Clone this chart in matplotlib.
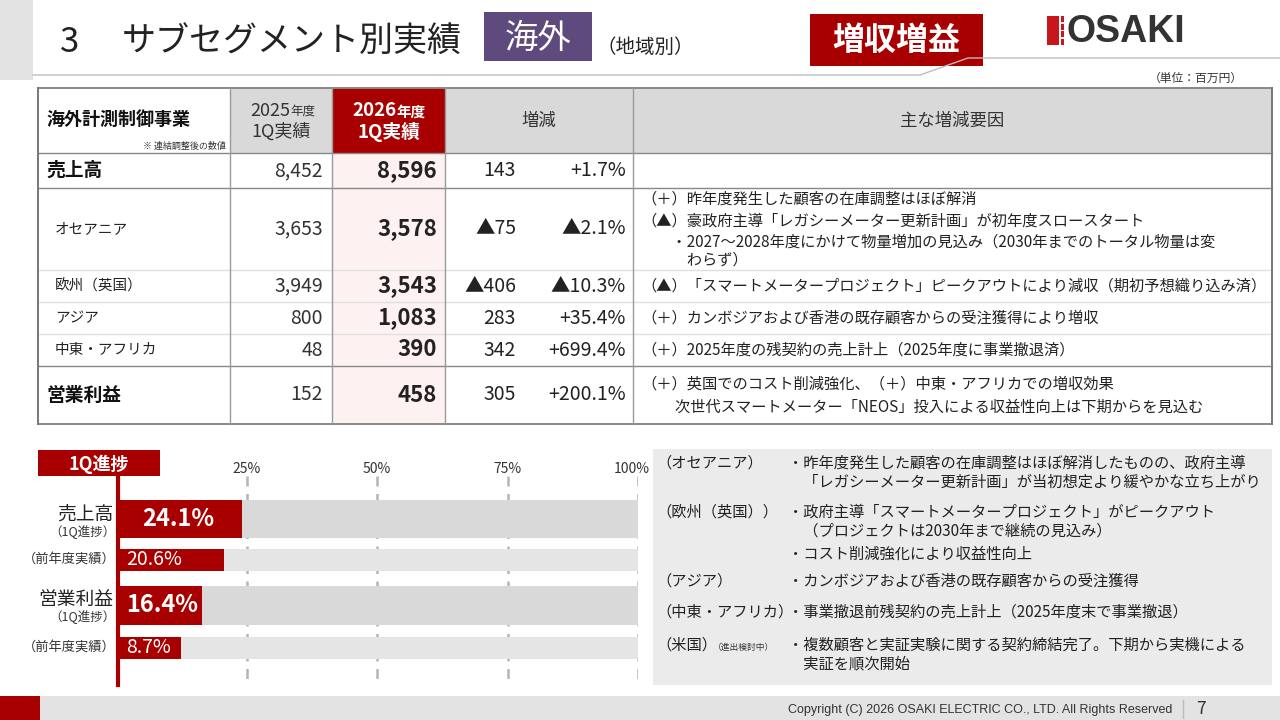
import matplotlib.pyplot as plt
from matplotlib.patches import Rectangle

plt.rcParams['font.family'] = ['Noto Sans CJK JP', 'DejaVu Sans']

# table data (unit: million yen)
rows = ['売上高', 'オセアニア', '欧州（英国）', 'アジア', '中東・アフリカ', '営業利益']
fy2025_q1 = [8452, 3653, 3949, 800, 48, 152]
fy2026_q1 = [8596, 3578, 3543, 1083, 390, 458]
change = [143, -75, -406, 283, 342, 305]
change_pct = [1.7, -2.1, -10.3, 35.4, 699.4, 200.1]
reasons = [
    [],
    ['（＋）昨年度発生した顧客の在庫調整はほぼ解消',
     '（▲）豪政府主導「レガシーメーター更新計画」が初年度スロースタート',
     '　　・2027～2028年度にかけて物量増加の見込み（2030年までのトータル物量は変',
     '　　　わらず）'],
    ['（▲）「スマートメータープロジェクト」ピークアウトにより減収（期初予想織り込み済）'],
    ['（＋）カンボジアおよび香港の既存顧客からの受注獲得により増収'],
    ['（＋）2025年度の残契約の売上計上（2025年度に事業撤退済）'],
    ['（＋）英国でのコスト削減強化、（＋）中東・アフリカでの増収効果',
     '　　 次世代スマートメーター「NEOS」投入による収益性向上は下期からを見込む'],
]

# progress chart data (%)
prog_labels = ['売上高', '（前年度実績）', '営業利益', '（前年度実績）']
prog_sub = ['（1Q進捗）', '', '（1Q進捗）', '']
progress = [24.1, 20.6, 16.4, 8.7]
prog_ticks = [25, 50, 75, 100]

# notes box
note_heads = ['（オセアニア）', '（欧州（英国））', '', '（アジア）', '（中東・アフリカ）', '（米国）']
note_lines = [
    ['・昨年度発生した顧客の在庫調整はほぼ解消したものの、政府主導',
     '　「レガシーメーター更新計画」が当初想定より緩やかな立ち上がり'],
    ['・政府主導「スマートメータープロジェクト」がピークアウト',
     '　（プロジェクトは2030年まで継続の見込み）'],
    ['・コスト削減強化により収益性向上'],
    ['・カンボジアおよび香港の既存顧客からの受注獲得'],
    ['・事業撤退前残契約の売上計上（2025年度末で事業撤退）'],
    ['・複数顧客と実証実験に関する契約締結完了。下期から実機による',
     '　実証を順次開始'],
]

RED = '#a80000'
GRID = '#9a9a9a'


def fmt_num(v):
    return f'{v:,}' if v >= 0 else f'▲{abs(v):,}'


def fmt_pct(v):
    return f'+{v:.1f}%' if v >= 0 else f'▲{abs(v):.1f}%'


fig = plt.figure(figsize=(12.8, 7.2), dpi=100)
ax = fig.add_axes([0, 0, 1, 1])
ax.set_xlim(0, 1280)
ax.set_ylim(720, 0)
ax.axis('off')

# ---- header ----
ax.add_patch(Rectangle((0, 0), 33, 80, color='#e3e3e3', lw=0))
ax.plot([33, 920, 968, 1280], [75, 75, 58, 58], color='#bdbdbd', lw=1)
ax.text(60, 42, '3', fontsize=25, va='center', color='#222')
ax.text(122, 42, 'サブセグメント別実績', fontsize=24.5, va='center', color='#222')
ax.add_patch(Rectangle((484, 12), 108, 49, color='#5e4a7d', lw=0))
ax.text(538, 38, '海外', fontsize=24, va='center', ha='center', color='white')
ax.text(596, 47, '（地域別）', fontsize=14, va='center', color='#222')
ax.add_patch(Rectangle((810, 14), 173, 52, color=RED, lw=0))
ax.text(896, 41, '増収増益', fontsize=23, va='center', ha='center', color='white', weight='bold')
ax.add_patch(Rectangle((1047, 16), 12, 29, color='#c8161d', lw=0))
for yy in (16, 23.5, 31, 38.5):
    ax.add_patch(Rectangle((1060.5, yy), 3.5, 6, color='#c8161d', lw=0))
ax.text(1066, 32, 'OSAKI', fontsize=27, va='center', color='#333',
        family='Liberation Sans', weight='bold')
ax.text(1243, 78, '（単位：百万円）', fontsize=8.5, va='center', ha='right', color='#333')

# ---- table ----
col_x = [38, 230, 332, 445, 633, 1272]
row_y = [88, 153, 188, 270, 302, 334, 366, 424]

ax.add_patch(Rectangle((col_x[1], row_y[0]), col_x[2] - col_x[1], row_y[1] - row_y[0], color='#d9d9d9', lw=0))
ax.add_patch(Rectangle((col_x[2], row_y[0]), col_x[3] - col_x[2], row_y[1] - row_y[0], color=RED, lw=0))
ax.add_patch(Rectangle((col_x[3], row_y[0]), col_x[5] - col_x[3], row_y[1] - row_y[0], color='#d9d9d9', lw=0))
ax.add_patch(Rectangle((col_x[2], row_y[1]), col_x[3] - col_x[2], row_y[-1] - row_y[1], color='#fdf1f1', lw=0))

# grid lines
for i, y in enumerate(row_y):
    major = i in (0, 1, 2, 6, 7)
    ax.plot([col_x[0], col_x[-1]], [y, y], color='#888' if major else '#e0e0e0',
            lw=1.4 if i in (0, 7) else 1.0)
for i, x in enumerate(col_x):
    if i in (0, 5):
        ax.plot([x, x], [row_y[0], row_y[-1]], color='#777', lw=1.4)
    else:
        ax.plot([x, x], [row_y[0], row_y[-1]], color=GRID, lw=1.0)

# header texts
hy = (row_y[0] + row_y[1]) / 2
ax.text(46, hy - 1, '海外計測制御事業', fontsize=13, weight='bold', va='center', color='#111')
ax.text(226, 146, '※ 連結調整後の数値', fontsize=6.5, va='center', ha='right', color='#333')
c1 = (col_x[1] + col_x[2]) / 2
ax.text(c1 + 9, hy - 10, '2025', fontsize=13, va='center', ha='right', color='#333')
ax.text(c1 + 9, hy - 9, '年度', fontsize=9, va='center', ha='left', color='#333')
ax.text(c1, hy + 11, '1Q実績', fontsize=13, va='center', ha='center', color='#333')
c2 = (col_x[2] + col_x[3]) / 2
ax.text(c2 + 8, hy - 10, '2026', fontsize=13.5, va='center', ha='right', color='white', weight='bold')
ax.text(c2 + 8, hy - 9, '年度', fontsize=10.5, va='center', ha='left', color='white', weight='bold')
ax.text(c2, hy + 11, '1Q実績', fontsize=13.5, va='center', ha='center', color='white', weight='bold')
ax.text((col_x[3] + col_x[4]) / 2, hy, '増減', fontsize=12.5, va='center', ha='center', color='#333')
ax.text((col_x[4] + col_x[5]) / 2, hy, '主な増減要因', fontsize=12.5, va='center', ha='center', color='#333')

# body rows
reason_offsets = {1: [-30, -8, 13, 31], 5: [-11, 12]}
for i, name in enumerate(rows):
    top, bot = row_y[i + 1], row_y[i + 2]
    cy = (top + bot) / 2
    main = i in (0, 5)
    if main:
        ax.text(46, cy, name, fontsize=13.5, weight='bold', va='center', color='#111')
    else:
        ax.text(55, cy, name, fontsize=10.5, va='center', color='#222')
    ax.text(323, cy, fmt_num(fy2025_q1[i]), fontsize=14, va='center', ha='right', color='#333')
    ax.text(437, cy, fmt_num(fy2026_q1[i]), fontsize=16, weight='bold', va='center', ha='right', color='#222')
    ax.text(516, cy, fmt_num(change[i]), fontsize=14, va='center', ha='right', color='#222')
    ax.text(626, cy, fmt_pct(change_pct[i]), fontsize=14, va='center', ha='right', color='#222')
    offs = reason_offsets.get(i, [0] * len(reasons[i]))
    for k, line in enumerate(reasons[i]):
        ax.text(641, cy + offs[k], line, fontsize=11, va='center', color='#222')

# ---- progress bar chart ----
ax.add_patch(Rectangle((38, 450), 122, 26, color=RED, lw=0))
ax.text(99, 464, '1Q進捗', fontsize=13, weight='bold', va='center', ha='center', color='white')

bx = fig.add_axes([116 / 1280, 1 - 685 / 720, (638 - 116) / 1280, (685 - 476) / 720])
bx.set_xlim(0, 100)
bx.set_ylim(209, 0)
bx.axis('off')
bar_y = [43, 83.5, 129.5, 171.5]
bar_h = [38, 22, 39, 22]
bg = ['#d9d9d9', '#e5e5e5', '#d9d9d9', '#e5e5e5']
label_size = [17, 14, 17, 14]
min_bar = 12.5   # keep room for the value label
for t in prog_ticks:
    bx.vlines(t, 0, 209, colors='#b5b5b5', linestyles=(0, (4, 3)), lw=1.8, zorder=0)
    ax.text(116 + t * 5.22 - (6 if t == 100 else 0), 469, f'{t}%', fontsize=10,
            va='center', ha='center', color='#333')
bx.barh(bar_y, [100] * 4, height=bar_h, color=bg, zorder=1)
bx.barh(bar_y, [max(v, min_bar) for v in progress], height=bar_h, color=RED, zorder=2)
for i, v in enumerate(progress):
    bx.text(2 if i else 5, bar_y[i], f'{v}%', fontsize=label_size[i], color='white',
            va='center', ha='left', zorder=3, weight='bold' if i % 2 == 0 else 'normal')
ax.plot([118, 118], [476, 685], color=RED, lw=3)

label_y = [519 - 5, 559.5, 605.5 - 6, 647.5]
for i, name in enumerate(prog_labels):
    if prog_sub[i]:
        ax.text(113, label_y[i], name, fontsize=13.5, va='center', ha='right', color='#222')
        ax.text(116, label_y[i] + 18, prog_sub[i], fontsize=9, va='center', ha='right', color='#333')
    else:
        ax.text(116, label_y[i], name, fontsize=9.5, va='center', ha='right', color='#333')

# ---- notes box ----
ax.add_patch(Rectangle((653, 449), 619, 236, color='#ebebeb', lw=0))
note_y = [463, 512, 554, 581, 612, 645]
for i, lines in enumerate(note_lines):
    if note_heads[i]:
        ax.text(656, note_y[i], note_heads[i], fontsize=11, va='center', color='#222')
    for k, line in enumerate(lines):
        ax.text(788, note_y[i] + k * 19, line, fontsize=11, va='center', color='#222')
ax.text(713, 647, '（進出検討中）', fontsize=6.3, va='center', color='#333')

# ---- footer ----
ax.add_patch(Rectangle((0, 696), 1280, 24, color='#e3e3e3', lw=0))
ax.add_patch(Rectangle((0, 696), 40, 24, color=RED, lw=0))
ax.text(1172, 710, 'Copyright (C) 2026 OSAKI ELECTRIC CO., LTD. All Rights Reserved',
        fontsize=9, va='center', ha='right', color='#333', family='Liberation Sans')
ax.plot([1183, 1183], [700, 718], color='#bbb', lw=1)
ax.text(1196, 709, '7', fontsize=12.5, va='center', color='#333')

fig.savefig('out.png', dpi=100)
